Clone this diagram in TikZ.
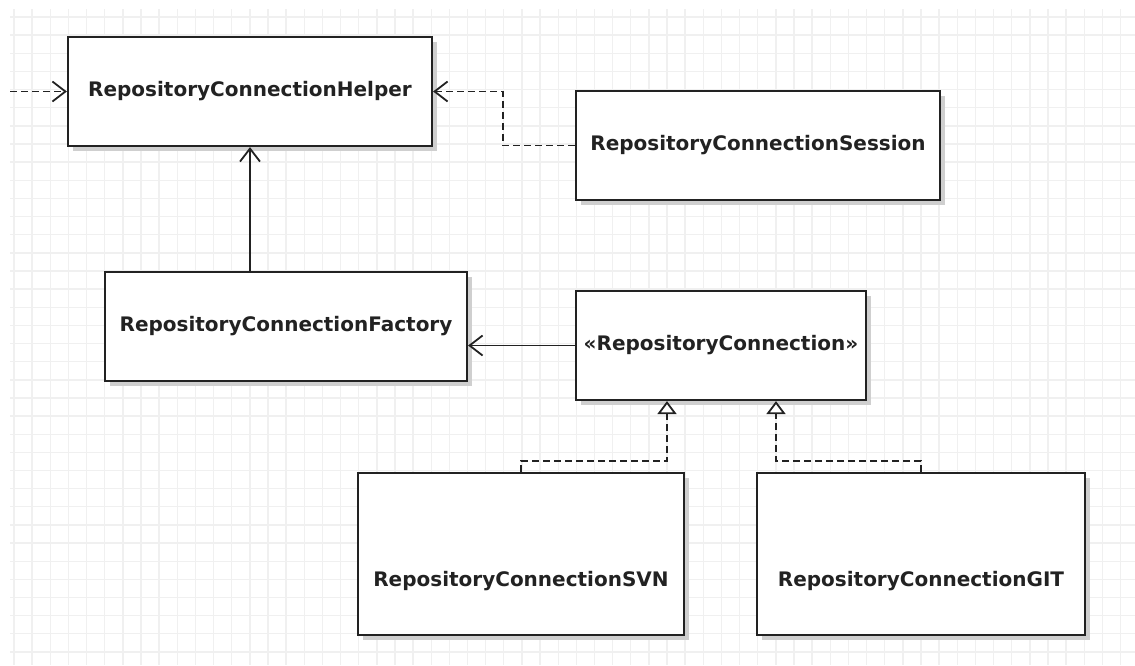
\documentclass[tikz,border=0pt]{standalone}
\usepackage{fontspec}
\setmainfont{DejaVu Sans}
\usetikzlibrary{arrows.meta,shadows,calc}
\definecolor{gridgray}{HTML}{F0F0F0}
\definecolor{inkgray}{HTML}{222222}
\definecolor{shadegray}{HTML}{CFCFCF}
\tikzset{
  classbox/.style={draw=inkgray, line width=2.2pt, fill=white, inner sep=0pt,
    font=\bfseries\fontsize{20}{22}\selectfont, text=inkgray,
    drop shadow={shadow xshift=5pt, shadow yshift=-5pt, fill=shadegray, opacity=1}},
  boxlabel/.style={inner sep=0pt, font=\bfseries\fontsize{20}{22}\selectfont, text=inkgray},
  link/.style={draw=inkgray, line width=1.8pt},
  dashlink/.style={link, dash pattern=on 7pt off 4pt},
  openhead/.style={-{Straight Barb[length=13pt,width=20pt,line width=1.8pt]}},
  realize/.style={-{Triangle[open,length=13pt,width=19pt,line width=1.8pt,fill=white]}}
}
\begin{document}
\begin{tikzpicture}[x=1pt,y=-1pt]
  \useasboundingbox (0,0) rectangle (1135,665);
  \fill[white] (0,0) rectangle (1135,665);
  % background grid
  \foreach \k in {0,...,61} {
    \draw[gridgray, line width=1.4pt] ({14+18.14*\k},9) -- ({14+18.14*\k},665);
  }
  \foreach \k in {0,...,35} {
    \draw[gridgray, line width=1.4pt] (10,{17+18.14*\k}) -- (1135,{17+18.14*\k});
  }

  % classes
  \node[classbox, minimum width=364pt, minimum height=109pt] (helper) at (250,91.5) {RepositoryConnectionHelper};
  \node[classbox, minimum width=364pt, minimum height=109pt] (session) at (758,145.5) {RepositoryConnectionSession};
  \node[classbox, minimum width=362pt, minimum height=109pt] (factory) at (286,326.5) {RepositoryConnectionFactory};
  \node[classbox, minimum width=290pt, minimum height=109pt] (conn) at (721,345.5) {«RepositoryConnection»};
  \node[classbox, minimum width=326pt, minimum height=162pt] (svn) at (521,554) {};
  \node[classbox, minimum width=328pt, minimum height=162pt] (git) at (921,554) {};
  \node[boxlabel] (svnlabel) at (521,581) {RepositoryConnectionSVN};
  \node[boxlabel] (gitlabel) at (921,581) {RepositoryConnectionGIT};

  % connectors
  \coordinate (ext) at (10,91.5);
  \draw[dashlink, openhead] (ext) -- (helper.west);
  \draw[dashlink, openhead] (session.west) -- ++(-72,0) |- (helper.east);
  \draw[link, openhead] (helper.south |- factory.north) -- (helper.south);
  \draw[link, openhead] (conn.west) -- (conn.west -| factory.east);
  \coordinate (connL) at ($(conn.south)+(-54,0)$);
  \coordinate (connR) at ($(conn.south)+(55,0)$);
  \draw[dashlink, realize] (svn.north) -- ++(0,-11) -| (connL);
  \draw[dashlink, realize] (git.north) -- ++(0,-11) -| (connR);
\end{tikzpicture}
\end{document}
